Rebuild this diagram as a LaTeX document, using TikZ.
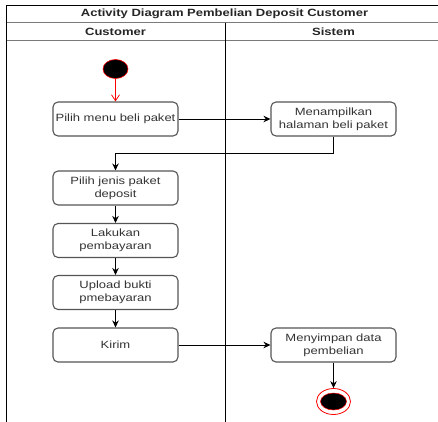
\documentclass[tikz,border=0pt]{standalone}
\usepackage{fontspec}
\setmainfont{Liberation Sans}[FakeStretch=1.24]
\usetikzlibrary{arrows.meta,positioning,shapes.geometric}
\definecolor{boxline}{HTML}{555555}
\definecolor{txt}{HTML}{333333}
\definecolor{rowline}{HTML}{7A7A7A}
\definecolor{umlred}{HTML}{FF0000}
\begin{document}
\begin{tikzpicture}[x=1pt,y=-1pt,
  every node/.style={font=\fontsize{10.5}{13}\selectfont, text=txt},
  act/.style={draw=boxline, line width=1.1pt, rounded corners=5pt,
    minimum width=125pt, minimum height=34pt, text width=120pt,
    align=center, inner sep=1pt},
  flow/.style={draw=black, line width=0.9pt, -{Stealth[length=7pt,width=6.5pt]}},
  headtext/.style={font=\bfseries\fontsize{10.5}{13}\selectfont, text=black!85}
]
\useasboundingbox (0,0) rectangle (438,421);
\clip (0,0) rectangle (438,421);

% swimlane frame
\draw[line width=1pt, black] (6.5,5) -- (445,5);
\draw[line width=1pt, black] (6.5,5) -- (6.5,425);
\draw[line width=1.4pt, rowline] (6.5,22.5) -- (445,22.5);
\draw[line width=1.4pt, rowline] (6.5,40.5) -- (445,40.5);
\draw[line width=1pt, black] (225,22.5) -- (225,425);

% title and lane headers
\node[headtext] (title) at (224.5,14) {Activity Diagram Pembelian Deposit Customer};
\node[headtext] (laneA) at (115.5,31.5) {Customer};
\node[headtext] (laneB) at (333.5,31.5) {Sistem};

% start node
\node[draw=umlred, fill=black, ellipse, minimum width=25pt, minimum height=19pt,
  inner sep=0pt, line width=0.6pt] (start) at (115.5,69) {};

% activities
\node[act] (b1) at (115.5,119) {Pilih menu beli paket};
\node[act] (b2) at (333.5,119) {Menampilkan\\halaman beli paket};
\node[act] (b3) at (115.5,188) {Pilih jenis paket\\deposit};
\node[act] (b4) at (115.5,240.5) {Lakukan\\pembayaran};
\node[act] (b5) at (115.5,292.5) {Upload bukti\\pmebayaran};
\node[act] (b6) at (115.5,345) {Kirim};
\node[act] (b7) at (333.5,345) {Menyimpan data\\pembelian};

% final node
\node[draw=umlred, ellipse, minimum width=34pt, minimum height=26pt,
  inner sep=0pt, line width=0.8pt] (final) at (333.5,401.5) {};
\node[draw=umlred, fill=black, ellipse, minimum width=26pt, minimum height=17pt,
  inner sep=0pt, line width=0.5pt] (finalcore) at (333.5,401.5) {};

% flows
\draw[draw=umlred, line width=0.8pt, -{Straight Barb[length=6pt,width=8pt]}]
  (start) -- (b1);
\draw[flow] (b1) -- (b2);
\coordinate (turnA) at (b2.south |- 0,153);
\coordinate (turnB) at (b3.north |- 0,153);
\draw[flow] (b2.south) -- (turnA) -- (turnB) -- (b3.north);
\draw[flow] (b3) -- (b4);
\draw[flow] (b4) -- (b5);
\draw[flow] (b5) -- (b6);
\draw[flow] (b6) -- (b7);
\draw[flow] (b7) -- (final);
\end{tikzpicture}
\end{document}
